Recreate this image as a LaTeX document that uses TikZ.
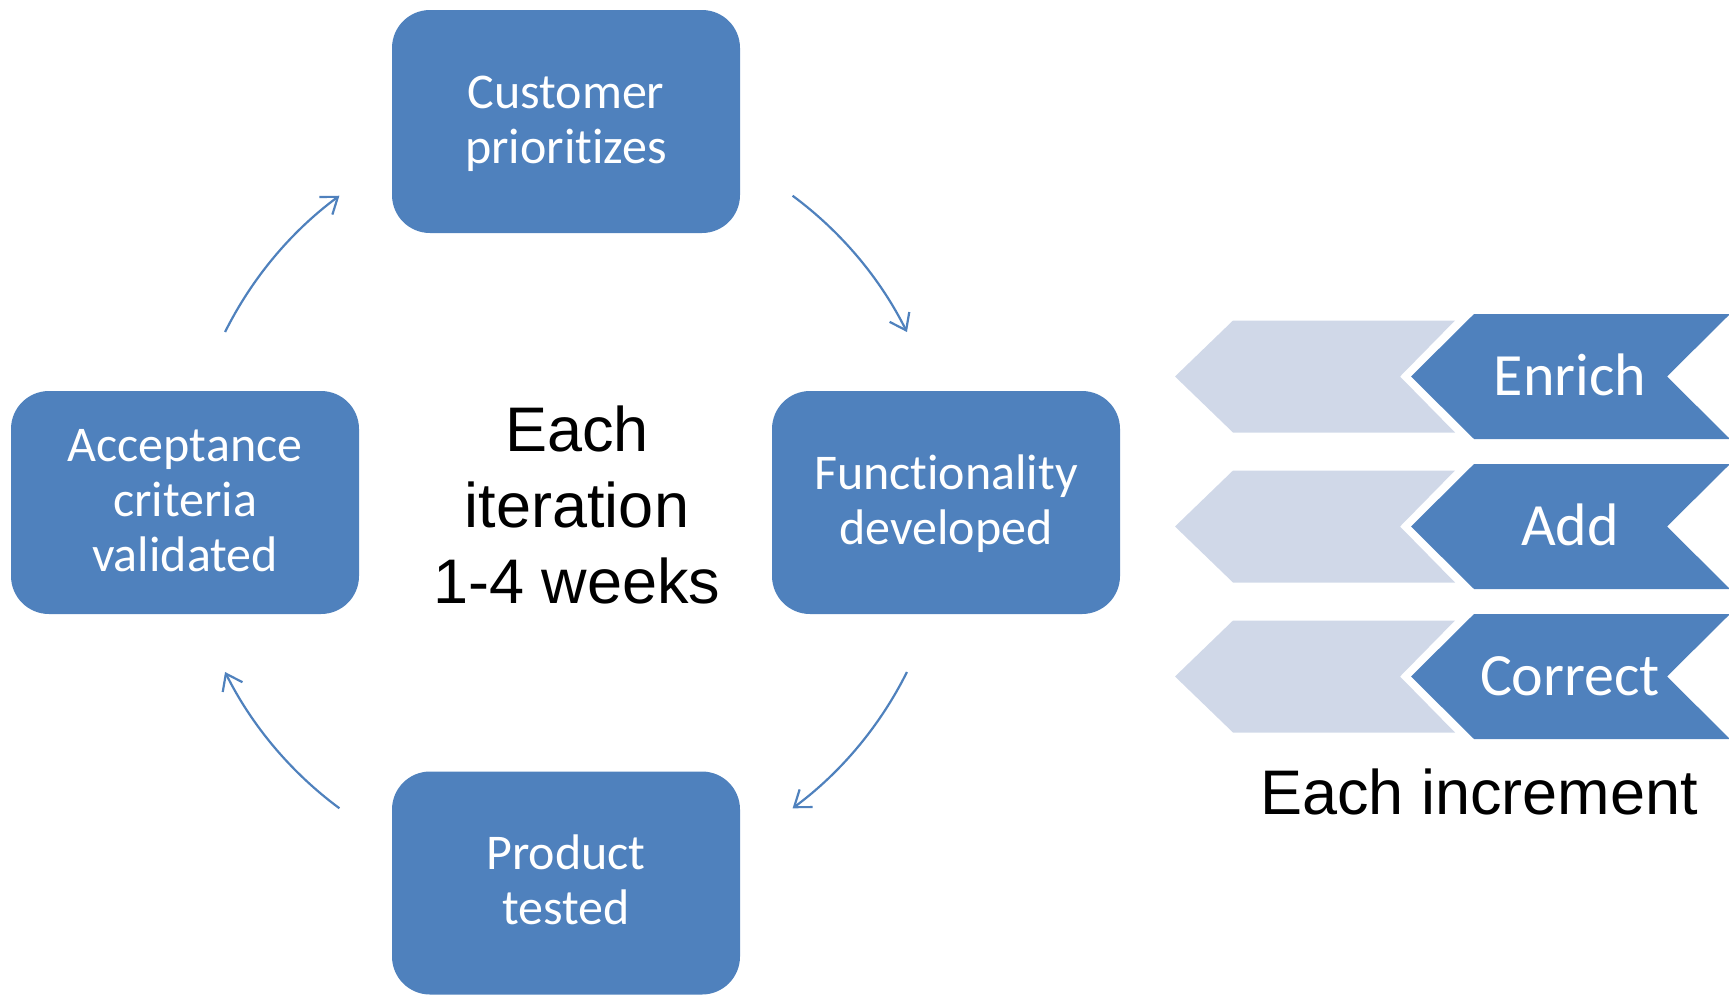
\documentclass[tikz,border=0pt]{standalone}
\usepackage{fontspec}
\setmainfont{Carlito}[Ligatures={NoCommon,NoRequired,NoContextual}]
\newfontfamily\arialf{Liberation Sans}
\usetikzlibrary{arrows.meta,calc}
\definecolor{boxblue}{HTML}{4F81BD}
\definecolor{lightchev}{HTML}{D0D8E8}
\newcommand\bxs{\rule[-10pt]{0pt}{48pt}}
\newcommand\boxfont{\fontsize{50}{55}\selectfont\lineskiplimit=-200pt\relax}
\begin{document}
\begin{tikzpicture}[x=1pt,y=-1pt,
  stage/.style={draw=none, fill=boxblue, rounded corners=38pt, minimum width=348pt, minimum height=223pt, text=white, align=center, font=\boxfont, inner sep=0pt},
  cyc/.style={draw=boxblue, line width=2.2pt, -{Straight Barb[length=15pt,width=22pt]}},
  chevlabel/.style={text=white, font=\fontsize{60}{66}\selectfont, anchor=base, inner sep=0pt},
  bigtext/.style={font=\arialf\fontsize{63}{76}\selectfont, align=center, inner sep=0pt}]
\useasboundingbox (0,0) rectangle (1729,994);

% cycle boxes
\node[stage] (cust) at (566,121.5) {Customer\bxs\\prioritizes\bxs};
\node[stage] (func) at (946,502.5) {Functionality\bxs\\developed\bxs};
\node[stage] (prod) at (566,883) {Product\bxs\\tested\bxs};
\node[stage] (acc) at (185,502.5) {Acceptance\bxs\\criteria\bxs\\validated\bxs};

\node[bigtext] (iter) at (577,505) {Each\\iteration\\1-4 weeks};

% cycle arrows
\coordinate (ctr) at (566,502);
\coordinate (a1) at ($(ctr)+(206.5:381)$);
\coordinate (a2) at ($(ctr)+(306.5:381)$);
\coordinate (a3) at ($(ctr)+(26.5:381)$);
\coordinate (a4) at ($(ctr)+(126.5:381)$);
\draw[cyc] (a1) arc[start angle=206.5, end angle=233.5, radius=381];
\draw[cyc] (a2) arc[start angle=306.5, end angle=333.5, radius=381];
\draw[cyc] (a3) arc[start angle=26.5, end angle=53.5, radius=381];
\draw[cyc] (a4) arc[start angle=126.5, end angle=153.5, radius=381];

% increment chevrons
\foreach \m/\t/\n in {376.5/Enrich/enrich, 526.5/Add/add, 676.5/Correct/correct}{
  \fill[lightchev] (1175,\m) -- (1233,\m-56) -- (1455,\m-56) -- (1400,\m) -- (1455,\m+56) -- (1233,\m+56) -- cycle;
  \fill[boxblue] (1411,\m) -- (1474,\m-62.5) -- (1730,\m-62.5) -- (1667,\m) -- (1730,\m+62.5) -- (1474,\m+62.5) -- cycle;
  \node[chevlabel] (\n) at (1570,\m+19) {\t};
}

\node[bigtext, anchor=base] (incr) at (1479,814) {Each increment};
\end{tikzpicture}
\end{document}
